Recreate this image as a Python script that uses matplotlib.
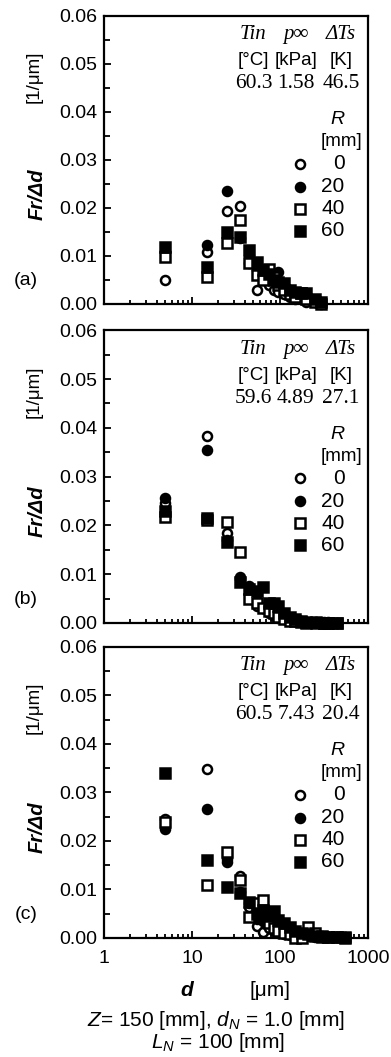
"""Drop size distribution Fr/Δd vs d for three flash-boiling conditions (a)-(c)."""
import matplotlib
matplotlib.use("Agg")
import matplotlib.pyplot as plt
from matplotlib.ticker import FixedLocator, MultipleLocator, NullFormatter

plt.rcParams["font.family"] = ["Liberation Sans", "DejaVu Sans"]
plt.rcParams["mathtext.fontset"] = "custom"
plt.rcParams["mathtext.rm"] = "Liberation Sans"
plt.rcParams["mathtext.it"] = "Liberation Sans:italic"

SERIF = ["Liberation Serif", "DejaVu Serif"]

# ---- data ----
R_LABELS = ["0", "20", "40", "60"]
X_TICKS = [1, 10, 100, 1000]
X_TICKLABELS = ["1", "10", "100", "1000"]

d_a = [5, 15, 25, 35, 45, 55, 65, 75, 85, 95, 110, 130, 150, 175, 200, 250, 290]
a_r0 = [0.0050, 0.0108, 0.0194, 0.0204, 0.0085, 0.0030, 0.0055, 0.0040, 0.0030, 0.0025,
        0.0020, 0.0015, 0.0010, 0.0010, 0.0005, 0.0008, 0.0000]
a_r20 = [0.0110, 0.0123, 0.0235, 0.0137, 0.0100, 0.0070, 0.0060, 0.0060, 0.0055, 0.0066,
         0.0040, 0.0030, 0.0020, 0.0015, 0.0010, 0.0005, 0.0002]
a_r40 = [0.0098, 0.0056, 0.0127, 0.0175, 0.0085, 0.0060, 0.0050, 0.0073, 0.0056, 0.0040,
         0.0030, 0.0020, 0.0015, 0.0022, 0.0010, 0.0005, 0.0001]
a_r60 = [0.0119, 0.0077, 0.0150, 0.0140, 0.0113, 0.0088, 0.0070, 0.0062, 0.0050, 0.0045,
         0.0044, 0.0030, 0.0025, 0.0023, 0.0023, 0.0010, 0.0005]

d_b = [5, 15, 25, 35, 45, 55, 65, 75, 85, 95, 110, 130, 150, 175, 200, 260, 320, 350, 440]
b_r0 = [0.0245, 0.0383, 0.0185, 0.0090, 0.0060, 0.0035, 0.0030, 0.0020, 0.0015, 0.0010,
        0.0008, 0.0005, 0.0004, 0.0003, 0.0002, 0.0002, 0.0001, 0.0001, 0.0000]
b_r20 = [0.0256, 0.0355, 0.0170, 0.0094, 0.0075, 0.0045, 0.0030, 0.0025, 0.0020, 0.0015,
         0.0010, 0.0008, 0.0005, 0.0004, 0.0003, 0.0002, 0.0002, 0.0003, 0.0001]
b_r40 = [0.0217, 0.0212, 0.0207, 0.0146, 0.0049, 0.0040, 0.0030, 0.0025, 0.0020, 0.0012,
         0.0008, 0.0005, 0.0004, 0.0003, 0.0000, 0.0000, 0.0000, 0.0000, 0.0000]
b_r60 = [0.0230, 0.0215, 0.0165, 0.0085, 0.0070, 0.0065, 0.0074, 0.0040, 0.0040, 0.0035,
         0.0020, 0.0012, 0.0008, 0.0005, 0.0003, 0.0002, 0.0001, 0.0001, 0.0000]

d_c = [5, 15, 25, 35, 45, 55, 65, 75, 85, 95, 110, 130, 150, 180, 210, 250, 300, 350, 450, 550]
c_r0 = [0.0245, 0.0348, 0.0162, 0.0128, 0.0064, 0.0025, 0.0012, 0.0020, 0.0015, 0.0010,
        0.0008, 0.0006, 0.0005, 0.0004, 0.0004, 0.0003, 0.0003, 0.0002, 0.0002, 0.0001]
c_r20 = [0.0225, 0.0266, 0.0157, 0.0095, 0.0072, 0.0040, 0.0035, 0.0030, 0.0025, 0.0020,
         0.0015, 0.0012, 0.0010, 0.0008, 0.0006, 0.0005, 0.0004, 0.0003, 0.0002, 0.0001]
c_r40 = [0.0240, 0.0110, 0.0177, 0.0120, 0.0043, 0.0072, 0.0078, 0.0030, 0.0020, 0.0015,
         0.0010, 0.0008, 0.0000, 0.0000, 0.0023, 0.0010, 0.0005, 0.0003, 0.0002, 0.0001]
c_r60 = [0.0340, 0.0160, 0.0105, 0.0093, 0.0075, 0.0050, 0.0058, 0.0045, 0.0055, 0.0037,
         0.0030, 0.0023, 0.0015, 0.0010, 0.0008, 0.0005, 0.0003, 0.0002, 0.0001, 0.0000]

cond_a = ["60.3", "1.58", "46.5"]
cond_b = ["59.6", "4.89", "27.1"]
cond_c = ["60.5", "7.43", "20.4"]

PANELS = [
    ("(a)", d_a, [a_r0, a_r20, a_r40, a_r60], cond_a, [0.266, 0.7124, 0.675, 0.2725]),
    ("(b)", d_b, [b_r0, b_r20, b_r40, b_r60], cond_b, [0.266, 0.4106, 0.675, 0.2770]),
    ("(c)", d_c, [c_r0, c_r20, c_r40, c_r60], cond_c, [0.266, 0.1126, 0.675, 0.2753]),
]

# marker styles per R: open circle, filled circle, open square, filled square
STYLES = [("o", "white"), ("o", "black"), ("s", "white"), ("s", "black")]
MS, MEW = 6.5, 1.8

fig = plt.figure(figsize=(3.91, 10.57), dpi=100)
W, H = 391, 1057


def frac_below_top(ax_h, px):
    return 1 - px / (ax_h * H)


for i, (tag, d, series, cond, pos) in enumerate(PANELS):
    ax = fig.add_axes(pos)
    ax.set_xscale("log")

    for vals, (mk, fc) in zip(series, STYLES):
        ax.plot(d, vals, ls="none", marker=mk, ms=MS, mfc=fc, mec="black",
                mew=MEW, clip_on=False, zorder=3)

    ax.set_xlim(1, 1000)
    ax.set_ylim(0, 0.06)
    for sp in ax.spines.values():
        sp.set_linewidth(1.6)
    ax.yaxis.set_major_locator(MultipleLocator(0.01))
    ax.yaxis.set_minor_locator(MultipleLocator(0.005))
    ax.yaxis.set_major_formatter(plt.FormatStrFormatter("%.2f"))
    ax.xaxis.set_major_locator(FixedLocator(X_TICKS))
    minor = [m * 10 ** e for e in range(3) for m in range(2, 10)]
    ax.xaxis.set_minor_locator(FixedLocator(minor))
    ax.xaxis.set_minor_formatter(NullFormatter())
    ax.tick_params(which="both", direction="in", width=1.3, top=False, right=False)
    ax.tick_params(axis="y", which="major", length=5, labelsize=14, pad=5)
    ax.tick_params(axis="y", which="minor", length=4)
    ax.tick_params(axis="x", which="major", length=5, labelsize=14, pad=9)
    ax.tick_params(axis="x", which="minor", length=3)
    if i < 2:
        ax.set_xticklabels([])
    else:
        ax.set_xticklabels(X_TICKLABELS)

    ax_h = pos[3]
    # condition header
    cols = [0.566, 0.727, 0.898]
    heads = ["Tin", "p\u221e", "\u0394Ts"]
    units = ["[\u00b0C]", "[kPa]", "[K]"]
    for cx, hd, un, vv in zip(cols, heads, units, cond):
        ax.text(cx, frac_below_top(ax_h, 19), hd, transform=ax.transAxes, ha="center",
                va="center", family=SERIF, style="italic", fontsize=15)
        ax.text(cx, frac_below_top(ax_h, 45), un, transform=ax.transAxes, ha="center",
                va="center", fontsize=13.5)
        ax.text(cx, frac_below_top(ax_h, 68), vv, transform=ax.transAxes, ha="center",
                va="center", family=SERIF, fontsize=15.5)

    # R legend
    ax.text(0.883, frac_below_top(ax_h, 104), "R", transform=ax.transAxes, ha="center",
            va="center", style="italic", fontsize=14)
    ax.text(0.898, frac_below_top(ax_h, 126), "[mm]", transform=ax.transAxes, ha="center",
            va="center", fontsize=13.5)
    for (mk, fc), lab, py in zip(STYLES, R_LABELS, [148, 171, 193, 215]):
        yy = frac_below_top(ax_h, py)
        ax.plot([0.742], [yy], transform=ax.transAxes, ls="none", marker=mk, ms=MS,
                mfc=fc, mec="black", mew=MEW, clip_on=False)
        ax.text(0.912, yy, lab, transform=ax.transAxes, ha="right", va="center",
                fontsize=15)

    # y labels and panel tag
    ax.text(37 / W, pos[1] + 0.38 * ax_h, "Fr/\u0394d", transform=fig.transFigure,
            rotation=90, ha="center", va="center", fontsize=14.5, fontweight="bold",
            style="italic")
    ax.text(34 / W, pos[1] + 0.79 * ax_h, "[1/\u03bcm]", transform=fig.transFigure,
            rotation=90, ha="center", va="center", fontsize=13.5)
    ax.text(26 / W, pos[1] + 23 / H, tag, transform=fig.transFigure, ha="center",
            va="center", fontsize=14)

# x label + caption
fig.text(187 / W, 1 - 990 / H, "d", ha="center", va="center", fontsize=15,
         fontweight="bold", style="italic")
fig.text(270 / W, 1 - 990 / H, "[\u03bcm]", ha="center", va="center", fontsize=15)
fig.text(216 / W, 1 - 1020 / H, r"$Z$= 150 [mm], $d_N$ = 1.0 [mm]", ha="center",
         va="center", fontsize=15)
fig.text(218 / W, 1 - 1042 / H, r"$L_N$ = 100 [mm]", ha="center", va="center",
         fontsize=15)

fig.savefig("out.png", dpi=100)
